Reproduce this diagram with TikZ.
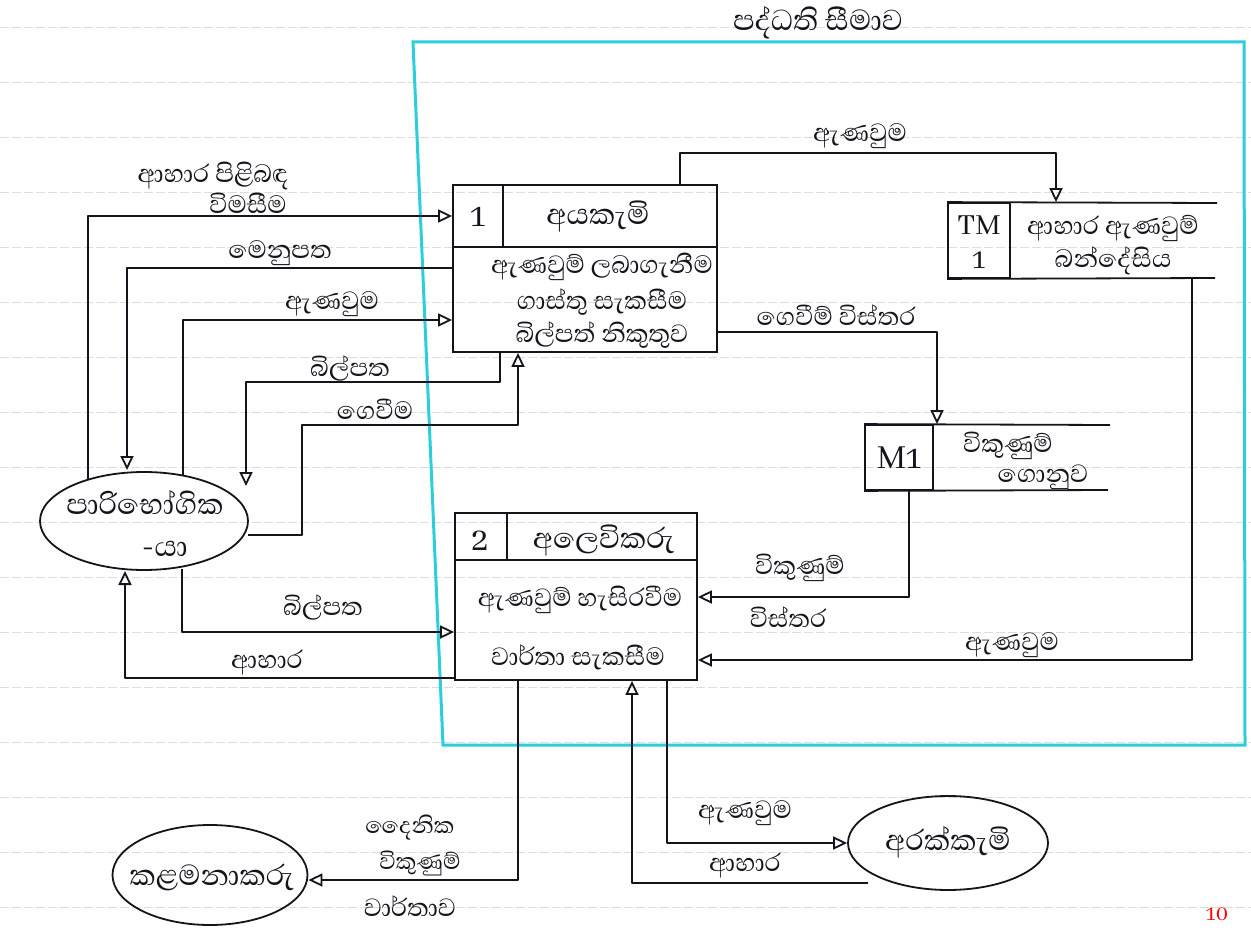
\documentclass[tikz,border=0pt]{standalone}
\usepackage{fontspec}
\setmainfont[Script=Sinhala]{Abhaya Libre}
\usetikzlibrary{arrows.meta,shapes.geometric}
\definecolor{bnd}{RGB}{45,205,220}
\definecolor{ink}{RGB}{20,20,28}
\definecolor{rulec}{RGB}{218,222,218}
\tikzset{
  ln/.style={draw=ink, line width=1.8pt, line join=round},
  flow/.style={ln, -{Triangle[open, length=14pt, width=13pt, line width=1.8pt]}},
  lbl/.style={font=\fontsize{32}{34}\selectfont, inner sep=0pt, text=ink},
  sml/.style={lbl, font=\fontsize{29}{31}\selectfont},
  big/.style={lbl, font=\fontsize{37}{39}\selectfont},
  proc/.style={draw=ink, line width=1.8pt, rectangle, inner sep=0pt},
  ent/.style={draw=ink, line width=1.8pt, ellipse, inner sep=0pt},
  paperrule/.style={draw=rulec, line width=0.8pt, dash pattern=on 9pt off 3pt},
}
\begin{document}
\begin{tikzpicture}[x=1pt,y=-1pt]
\useasboundingbox (0,0) rectangle (1251,928);
\fill[white] (0,0) rectangle (1251,928);
% notebook rules
\foreach \yy in {27,82,137,192,247,302,357,412,467,522,577,632,687,742,797,852,907}
  \draw[paperrule] (0,\yy) -- (1251,\yy);
% system boundary
\draw[bnd, line width=3pt] (413,42) -- (1244,42) -- (1245,745) -- (443,745) -- cycle;
\node[big] (title) at (818,23) {පද්ධති සීමාව};

% processes
\node[proc, minimum width=264pt, minimum height=167pt] (p1) at (585,268.5) {};
\draw[ln] (p1.west |- 0,247) -- (p1.east |- 0,247);
\draw[ln] (p1.north -| 503,0) -- (503,247);
\node[big] (p1n) at (478,217) {1};
\node[big] (p1h) at (598,216) {අයකැමි};
\node[lbl] (p1a) at (602,267) {ඇණවුම් ලබාගැනීම};
\node[lbl] (p1b) at (602,302) {ගාස්තු සැකසීම};
\node[lbl] (p1c) at (602,335) {බිල්පත් නිකුතුව};

\node[proc, minimum width=242pt, minimum height=167pt] (p2) at (576,596.5) {};
\draw[ln] (p2.west |- 0,560) -- (p2.east |- 0,560);
\draw[ln] (p2.north -| 507,0) -- (507,560);
\node[big] (p2n) at (480,541) {2};
\node[big] (p2h) at (604,540) {අලෙවිකරු};
\node[lbl] (p2a) at (580,600) {ඇණවුම් හැසිරවීම};
\node[lbl] (p2b) at (578,657) {වාර්තා සැකසීම};

% data stores
\node[proc, minimum width=62pt, minimum height=75pt] (tm) at (979,240.5) {};
\draw[ln] (tm.north west) -- (1217,203);
\draw[ln] (tm.south west) -- (1215,278);
\node[lbl] (tmid) at (979,225) {TM};
\node[lbl] (tmid2) at (979,260) {1};
\node[lbl] (tma) at (1113,228) {ආහාර ඇණවුම්};
\node[lbl] (tmb) at (1113,261) {බන්දේසිය};

\node[proc, minimum width=68pt, minimum height=65pt] (m1) at (899,457.5) {};
\draw[ln] (m1.north west) -- (1110,425);
\draw[ln] (m1.south west) -- (1108,490);
\node[big] (m1id) at (899,458) {M1};
\node[lbl] (m1a) at (1008,446) {විකුණුම්};
\node[lbl] (m1b) at (1043,477) {ගොනුව};

% external entities
\node[ent, minimum width=208pt, minimum height=98pt] (cust) at (144,521) {};
\node[big] (custa) at (145,503) {පාරිභෝගික};
\node[big] (custb) at (165,549) {-යා};
\node[ent, minimum width=195pt, minimum height=100pt] (mgr) at (210,875) {};
\node[big] (mgrt) at (212,877) {කළමනාකරු};
\node[ent, minimum width=200pt, minimum height=94pt] (cook) at (948,843) {};
\node[big] (cookt) at (948,842) {අරක්කැමි};

% free ends near the customer ellipse and the cook
\coordinate (cA) at (88,480);
\coordinate (cB) at (127,470);
\coordinate (cC) at (183,476);
\coordinate (cD) at (246,486);
\coordinate (cE) at (248,535);
\coordinate (cF) at (182,569);
\coordinate (cG) at (125,571);
\coordinate (cH) at (868,883);

% flows between customer and process 1
\draw[flow] (cA) |- (p1.west |- 0,216);
\node[lbl] (l1a) at (213,176) {ආහාර පිළිබඳ};
\node[lbl] (l1b) at (248,203) {විමසීම};
\draw[flow] (p1.west |- 0,268) -| (cB);
\node[lbl] (l2) at (280,253) {මෙනුපත};
\draw[flow] (cC) |- (p1.west |- 0,320);
\node[lbl] (l3) at (332,304) {ඇණවුම};
\draw[flow] (p1.south -| 500,0) -- (500,382) -| (cD);
\node[lbl] (l4) at (350,368) {බිල්පත};
\draw[flow] (cE) -| (302,425) -| (p1.south -| 518,0);
\node[lbl] (l5) at (375,409) {ගෙවීම};

% process 1 to stores
\draw[flow] (p1.north -| 680,0) -- (680,153) -| (tm.north -| 1056,0);
\node[lbl] (l6) at (860,136) {ඇණවුම};
\draw[flow] (p1.east |- 0,332) -| (m1.north -| 937,0);
\node[lbl] (l7) at (836,315) {ගෙවීම් විස්තර};

% stores to process 2
\draw[flow] (tm.south -| 1192,0) |- (p2.east |- 0,660);
\node[lbl] (l8) at (1012,645) {ඇණවුම};
\draw[flow] (m1.south -| 909,0) |- (p2.east |- 0,597);
\node[lbl] (l9a) at (800,568) {විකුණුම්};
\node[lbl] (l9b) at (788,617) {විස්තර};

% customer and process 2
\draw[flow] (cF) |- (p2.west |- 0,632);
\node[lbl] (l10) at (323,607) {බිල්පත};
\draw[flow] (p2.west |- 0,678) -| (cG);
\node[lbl] (l11) at (267,663) {ආහාර};

% process 2 to manager and cook
\draw[flow] (p2.south -| 518,0) |- (mgr.east |- 0,880);
\node[sml] (l12a) at (410,828) {දෛනික};
\node[sml] (l12b) at (420,863) {විකුණුම්};
\node[lbl] (l12c) at (410,906) {වාර්තාව};
\draw[flow] (p2.south -| 667,0) |- (cook.west);
\node[lbl] (l13) at (745,813) {ඇණවුම};
\draw[flow] (cH) -| (p2.south -| 632,0);
\node[lbl] (l14) at (745,866) {ආහාර};

% red page mark
\node[lbl, text=red, anchor=south, font=\fontsize{24}{24}\selectfont] (pg) at (1217,921) {10};
\end{tikzpicture}
\end{document}
